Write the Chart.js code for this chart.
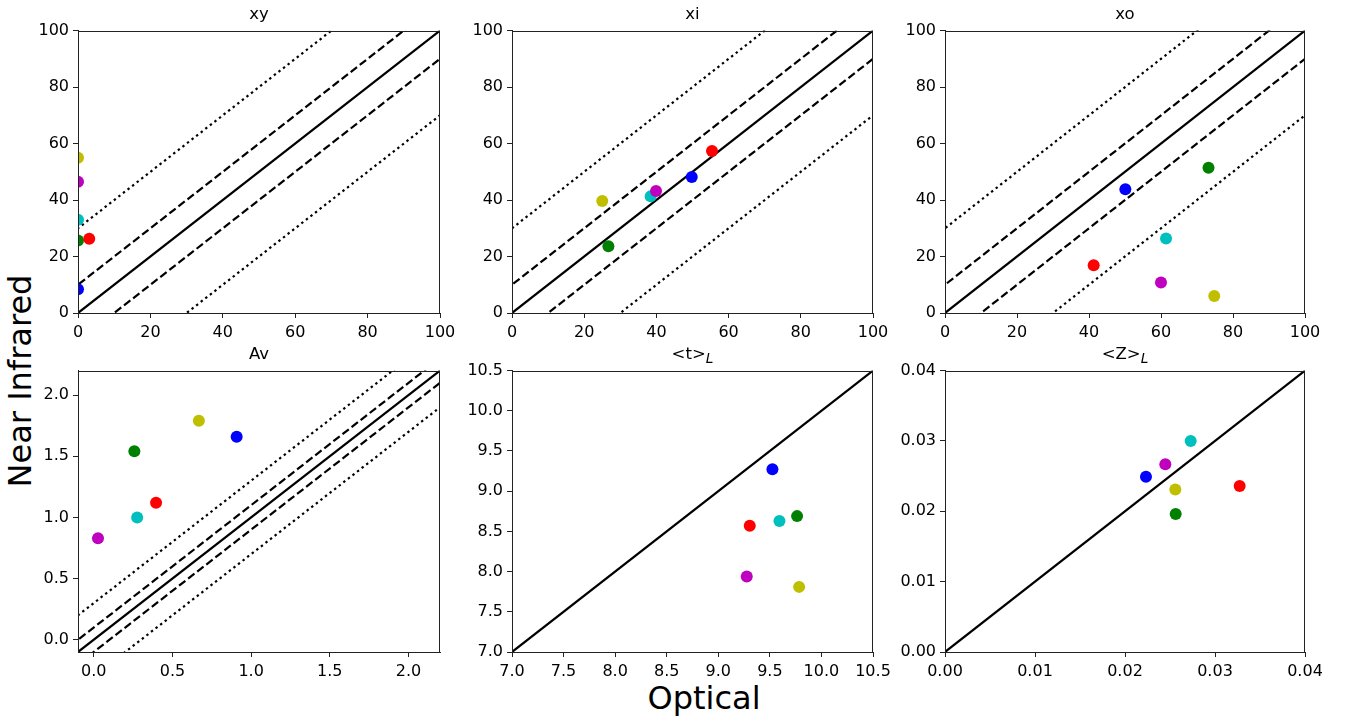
<!DOCTYPE html>
<html>
<head>
<meta charset="utf-8">
<script src="https://cdn.jsdelivr.net/npm/chart.js@4/dist/chart.umd.min.js"></script>
<style>
  body { margin: 0; background: #fff; width: 1347px; height: 720px; position: relative; overflow: hidden;
         font-family: 'DejaVu Sans', sans-serif; }
  canvas { position: absolute; }
  .title { position: absolute; text-align: center; font-size: 16.5px; line-height: 20px; color: #000; }
  .big { position: absolute; font-size: 32px; line-height: 32px; color: #000; white-space: nowrap; }
</style>
</head>
<body>
<div class="big" style="left:704px; top:682px; transform:translateX(-50%);">Optical</div>
<div class="big" style="left:20px; top:381px; transform:translate(-50%,-50%) rotate(-90deg);">Near Infrared</div>
<script>
// point colours, matplotlib b g r c m y
const colors = ['#0000ff', '#008000', '#ff0000', '#00bfbf', '#bf00bf', '#bfbf00']

// values, same order as colors
const xyOptical = [0, 0, 3.1, 0, 0, 0]
const xyNir     = [8.4, 25.7, 26.3, 33.0, 46.5, 55.0]
const xiOptical = [49.8, 26.7, 55.4, 38.4, 39.9, 25.0]
const xiNir     = [48.2, 23.6, 57.4, 41.3, 43.2, 39.7]
const xoOptical = [50.1, 73.2, 41.3, 61.4, 60.0, 74.8]
const xoNir     = [43.8, 51.4, 16.9, 26.4, 10.8, 6.0]
const avOptical = [0.908, 0.258, 0.396, 0.276, 0.027, 0.668]
const avNir     = [1.66, 1.54, 1.12, 1.00, 0.83, 1.79]
const tOptical  = [9.525, 9.764, 9.305, 9.593, 9.276, 9.784]
const tNir      = [9.274, 8.69, 8.57, 8.63, 7.94, 7.81]
const zOptical  = [0.02233, 0.02563, 0.03274, 0.0273, 0.02448, 0.02559]
const zNir      = [0.0249, 0.0196, 0.0236, 0.0300, 0.0267, 0.0231]

// tick labels
const pctTicks = [0, 20, 40, 60, 80, 100]
const avTicks  = [0.0, 0.5, 1.0, 1.5, 2.0]
const tTicks   = [7.0, 7.5, 8.0, 8.5, 9.0, 9.5, 10.0, 10.5]
const zTicks   = [0.00, 0.01, 0.02, 0.03, 0.04]

// one-to-one line plus offsets (dashed, dotted)
const pctOffsets = { dashed: 10, dotted: 30 }
const avOffsets  = { dashed: 0.1, dotted: 0.3 }

const panels = [
  { title: 'xy', x: xyOptical, y: xyNir, ticks: pctTicks, dec: 0, range: [0, 100], off: pctOffsets, row: 0, col: 0 },
  { title: 'xi', x: xiOptical, y: xiNir, ticks: pctTicks, dec: 0, range: [0, 100], off: pctOffsets, row: 0, col: 1 },
  { title: 'xo', x: xoOptical, y: xoNir, ticks: pctTicks, dec: 0, range: [0, 100], off: pctOffsets, row: 0, col: 2 },
  { title: 'Av', x: avOptical, y: avNir, ticks: avTicks, dec: 1, range: [-0.1, 2.2], off: avOffsets, row: 1, col: 0 },
  { title: '&lt;t&gt;<sub><i>L</i></sub>', x: tOptical, y: tNir, ticks: tTicks, dec: 1, range: [7.0, 10.5], off: null, row: 1, col: 1 },
  { title: '&lt;Z&gt;<sub><i>L</i></sub>', x: zOptical, y: zNir, ticks: zTicks, dec: 2, range: [0, 0.04], off: null, row: 1, col: 2 },
]

// plot area boxes
const colLeft = [78, 512, 945], colRight = [440, 873, 1305]
const rowTop = [29, 369], rowBottom = [313, 652]
const YW = 70, XH = 35, PT = 12, PR = 25

const frame = {
  id: 'frame',
  afterDraw(chart) {
    const a = chart.chartArea, ctx = chart.ctx
    ctx.save()
    ctx.strokeStyle = '#222'
    ctx.lineWidth = 1
    ctx.strokeRect(Math.round(a.left) + 0.5, Math.round(a.top) + 0.5, Math.round(a.right - a.left) - 1, Math.round(a.bottom - a.top))
    ctx.restore()
  }
}

function lineSet(lo, hi, off, dash) {
  const span = hi - lo
  const xs = [lo - span, hi + span]
  return {
    data: xs.map(v => ({ x: v, y: v + off })),
    showLine: true, pointRadius: 0, borderColor: '#000', borderWidth: 2.2,
    borderDash: dash, order: 20, tension: 0
  }
}

function axis(p, pos) {
  return {
    type: 'linear', position: pos, min: p.range[0], max: p.range[1],
    afterBuildTicks: s => { s.ticks = p.ticks.map(v => ({ value: v })) },
    afterFit: s => { if (pos === 'left') s.width = YW; else s.height = XH },
    grid: { display: true, drawOnChartArea: false, drawTicks: true, tickLength: 5, tickWidth: 1, color: '#222' },
    border: { display: true, color: '#222', width: 1 },
    ticks: {
      color: '#000', padding: pos === 'left' ? 4 : 5, maxRotation: 0, autoSkip: false,
      font: { family: 'DejaVu Sans', size: 16 },
      callback: v => Number(v).toFixed(p.dec)
    }
  }
}

panels.forEach(p => {
  const left = colLeft[p.col], right = colRight[p.col]
  const top = rowTop[p.row], bottom = rowBottom[p.row]
  const w = right - left + YW + PR, h = bottom - top + PT + XH

  const cv = document.createElement('canvas')
  cv.width = w; cv.height = h
  cv.style.left = (left - YW) + 'px'
  cv.style.top = (top - PT) + 'px'
  cv.style.width = w + 'px'; cv.style.height = h + 'px'
  document.body.appendChild(cv)

  const t = document.createElement('div')
  t.className = 'title'
  t.innerHTML = p.title
  t.style.left = left + 'px'
  t.style.width = (right - left) + 'px'
  t.style.top = (top - 25) + 'px'
  document.body.appendChild(t)

  const datasets = []
  datasets.push(lineSet(p.range[0], p.range[1], 0, []))
  if (p.off) {
    datasets.push(lineSet(p.range[0], p.range[1], p.off.dashed, [8, 3.5]))
    datasets.push(lineSet(p.range[0], p.range[1], -p.off.dashed, [8, 3.5]))
    datasets.push(lineSet(p.range[0], p.range[1], p.off.dotted, [2.4, 3.4]))
    datasets.push(lineSet(p.range[0], p.range[1], -p.off.dotted, [2.4, 3.4]))
  }
  p.x.forEach((xv, i) => {
    datasets.push({
      data: [{ x: xv, y: p.y[i] }],
      backgroundColor: colors[i], borderWidth: 0, pointRadius: 6, pointHoverRadius: 6,
      order: 10 - i, clip: 0
    })
  })

  new Chart(cv, {
    type: 'scatter',
    data: { datasets },
    options: {
      responsive: false, animation: false, devicePixelRatio: 1,
      layout: { padding: { top: PT, right: PR, left: 0, bottom: 0 } },
      plugins: { legend: { display: false }, tooltip: { enabled: false }, title: { display: false } },
      scales: { x: axis(p, 'bottom'), y: axis(p, 'left') }
    },
    plugins: [frame]
  })
})
</script>
</body>
</html>
